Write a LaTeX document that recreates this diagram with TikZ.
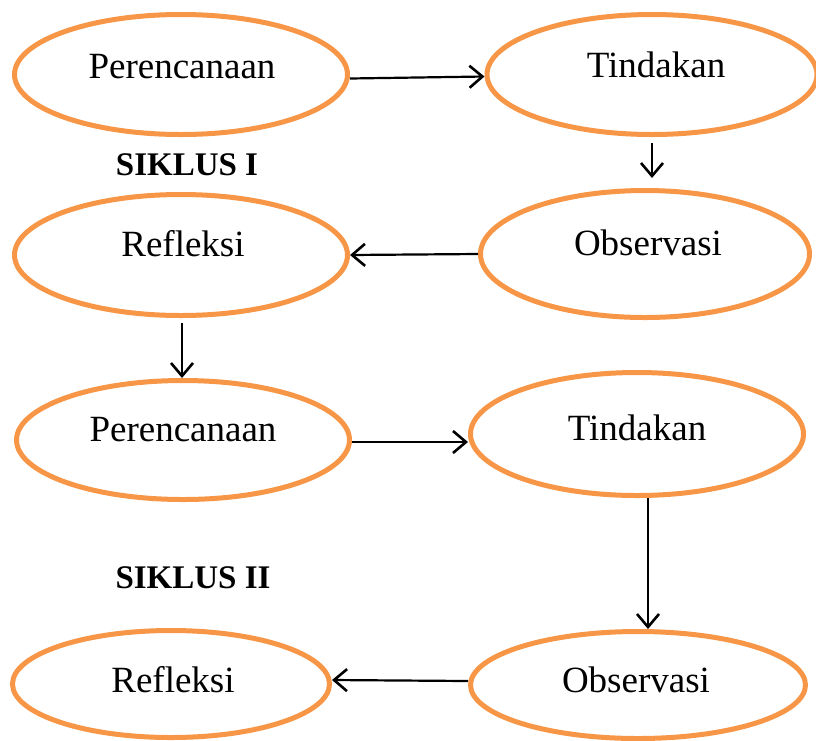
\documentclass[tikz,border=0pt]{standalone}
\usepackage{fontspec}
\setmainfont{Liberation Serif}
\usetikzlibrary{shapes.geometric,arrows.meta}
\definecolor{ovalorange}{HTML}{F79646}
\tikzset{
  oval/.style={ellipse, draw=ovalorange, line width=5pt, inner sep=0pt},
  lbl/.style={inner sep=0pt, font=\fontsize{37}{40}\selectfont},
  cyc/.style={inner sep=0pt, font=\fontsize{33}{36}\selectfont\bfseries},
  arr/.style={draw=black, line width=2.2pt, -{Straight Barb[length=13pt,width=22pt,line width=2.6pt]}}
}
\begin{document}
\begin{tikzpicture}[x=1pt,y=-1pt]
\useasboundingbox (0,0) rectangle (816,740);
% cycle I
\node[oval, minimum width=333pt, minimum height=120pt] (p1) at (181,74.5) {};
\node[oval, minimum width=330pt, minimum height=120pt] (t1) at (652,74.5) {};
\node[oval, minimum width=333pt, minimum height=121pt] (r1) at (181,255) {};
\node[oval, minimum width=329pt, minimum height=127pt] (o1) at (645,254) {};
\node[lbl] (tp1) at (182,67) {Perencanaan};
\node[lbl] (tt1) at (656,65) {Tindakan};
\node[lbl] (tr1) at (183,244) {Refleksi};
\node[lbl] (to1) at (648,243) {Observasi};
\node[cyc] (s1) at (187,165) {SIKLUS I};
% cycle II
\node[oval, minimum width=333pt, minimum height=119pt] (p2) at (183,440) {};
\node[oval, minimum width=333pt, minimum height=123pt] (t2) at (637,434) {};
\node[oval, minimum width=317pt, minimum height=107pt] (r2) at (171,684) {};
\node[oval, minimum width=335pt, minimum height=107pt] (o2) at (638,685) {};
\node[lbl] (tp2) at (183,430) {Perencanaan};
\node[lbl] (tt2) at (637,428) {Tindakan};
\node[lbl] (tr2) at (173,680) {Refleksi};
\node[lbl] (to2) at (636,680) {Observasi};
\node[cyc] (s2) at (193,578) {SIKLUS II};
% connectors
\draw[arr] ([yshift=-4pt]p1.east) -- ([yshift=-2pt]t1.west);
\draw[arr, shorten <=6pt, shorten >=10pt] (t1.south) -- (t1.south |- o1.north);
\draw[arr] (o1.west) -- (r1.east);
\draw[arr, shorten <=5pt] ([xshift=1pt]r1.south) -- ([xshift=1pt]r1.south |- p2.north);
\draw[arr] ([yshift=-2pt]p2.east) -- ([yshift=-2pt]p2.east -| t2.west);
\draw[arr] ([xshift=11pt]t2.south) -- ([xshift=11pt]t2.south |- o2.north);
\draw[arr] ([yshift=4pt]o2.west) -- ([yshift=4pt]r2.east);
\end{tikzpicture}
\end{document}
